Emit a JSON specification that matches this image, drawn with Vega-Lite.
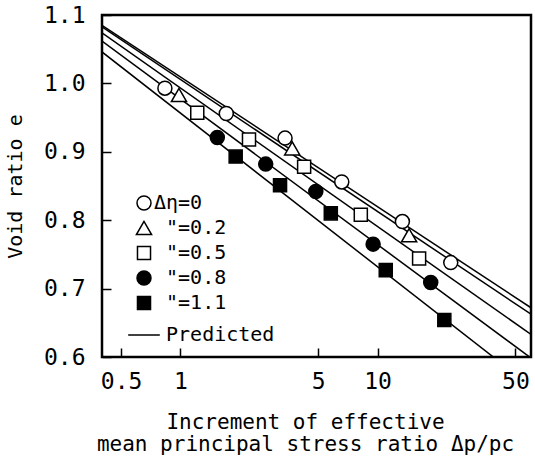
{
  "$schema": "https://vega.github.io/schema/vega-lite/v6.json",
  "width": 429,
  "height": 342,
  "autosize": {"type": "none"},
  "padding": {"left": 102, "top": 15, "right": 4, "bottom": 104},
  "background": "white",
  "config": {
    "view": {"stroke": "black", "strokeWidth": 2.5},
    "font": "DejaVu Sans Mono",
    "axis": {
      "domain": false,
      "grid": false,
      "tickColor": "black",
      "tickWidth": 1.5,
      "labelColor": "black",
      "titleColor": "black",
      "labelFont": "DejaVu Sans Mono",
      "titleFont": "DejaVu Sans Mono",
      "titleFontWeight": "normal"
    }
  },
  "datasets": {
    "obs": [
      {"series": "Δη=0", "x": 0.834, "e": 0.993},
      {"series": "Δη=0", "x": 1.708, "e": 0.956},
      {"series": "Δη=0", "x": 3.393, "e": 0.92},
      {"series": "Δη=0", "x": 6.58, "e": 0.856},
      {"series": "Δη=0", "x": 13.36, "e": 0.798},
      {"series": "Δη=0", "x": 23.5, "e": 0.738},
      {"series": "0.2", "x": 0.983, "e": 0.983},
      {"series": "0.2", "x": 3.69, "e": 0.905},
      {"series": "0.2", "x": 14.45, "e": 0.778},
      {"series": "0.5", "x": 1.217, "e": 0.957},
      {"series": "0.5", "x": 2.227, "e": 0.918},
      {"series": "0.5", "x": 4.24, "e": 0.878},
      {"series": "0.5", "x": 8.22, "e": 0.808},
      {"series": "0.5", "x": 16.24, "e": 0.744},
      {"series": "0.8", "x": 1.538, "e": 0.921},
      {"series": "0.8", "x": 2.707, "e": 0.882},
      {"series": "0.8", "x": 4.86, "e": 0.842},
      {"series": "0.8", "x": 9.49, "e": 0.765},
      {"series": "0.8", "x": 18.6, "e": 0.709},
      {"series": "1.1", "x": 1.906, "e": 0.893},
      {"series": "1.1", "x": 3.2, "e": 0.851},
      {"series": "1.1", "x": 5.79, "e": 0.81},
      {"series": "1.1", "x": 11.0, "e": 0.727},
      {"series": "1.1", "x": 21.8, "e": 0.654}
    ],
    "pred": [
      {"line": "A", "x": 0.4, "e": 1.085},
      {"line": "A", "x": 60, "e": 0.672},
      {"line": "B", "x": 0.4, "e": 1.0825},
      {"line": "B", "x": 60, "e": 0.6625},
      {"line": "C", "x": 0.4, "e": 1.074},
      {"line": "C", "x": 60, "e": 0.633},
      {"line": "D", "x": 0.4, "e": 1.062},
      {"line": "D", "x": 60, "e": 0.5985},
      {"line": "E", "x": 0.4, "e": 1.046},
      {"line": "E", "x": 60, "e": 0.557}
    ]
  },
  "layer": [
    {
      "data": {"name": "pred"},
      "mark": {"type": "line", "color": "black", "strokeWidth": 1.5, "clip": true},
      "encoding": {
        "x": {
          "field": "x",
          "type": "quantitative",
          "scale": {"type": "log", "domain": [0.4, 60], "nice": false},
          "axis": {
            "title": ["Increment of effective", "mean principal stress ratio Δp/pc"],
            "values": [0.5, 1, 5, 10, 50],
            "format": "~g",
            "tickSize": -9,
            "labelPadding": 40,
            "labelBaseline": "alphabetic",
            "labelFontSize": 23,
            "titleFontSize": 21,
            "titleX": 203,
            "titleY": 71,
            "titleAlign": "center",
            "titleBaseline": "alphabetic",
            "titleLineHeight": 22
          }
        },
        "y": {
          "field": "e",
          "type": "quantitative",
          "scale": {"domain": [0.6, 1.1], "nice": false, "zero": false},
          "axis": {
            "title": "Void ratio e",
            "values": [0.6, 0.7, 0.8, 0.9, 1.0, 1.1],
            "format": ".1f",
            "tickSize": -9,
            "labelPadding": 26,
            "labelFontSize": 23,
            "titleFontSize": 20,
            "titleX": -87,
            "titleY": 171,
            "titleAngle": 270,
            "titleAlign": "center",
            "titleBaseline": "middle"
          }
        },
        "detail": {"field": "line", "type": "nominal"}
      }
    },
    {
      "data": {"name": "obs"},
      "mark": {"type": "point", "filled": true, "stroke": "black", "strokeWidth": 1.5, "opacity": 1},
      "encoding": {
        "x": {"field": "x", "type": "quantitative", "scale": {"type": "log", "domain": [0.4, 60], "nice": false}},
        "y": {"field": "e", "type": "quantitative", "scale": {"domain": [0.6, 1.1], "nice": false, "zero": false}},
        "shape": {
          "field": "series",
          "type": "nominal",
          "scale": {
            "domain": ["Δη=0", "0.2", "0.5", "0.8", "1.1", "Predicted"],
            "range": ["circle", "triangle-up", "square", "circle", "square", "stroke"]
          },
          "legend": {
            "orient": "none",
            "legendX": 25,
            "legendY": 178,
            "title": null,
            "padding": 0,
            "labelFont": "DejaVu Sans Mono",
            "labelFontSize": 20,
            "labelColor": "black",
            "labelOffset": -7,
            "rowPadding": 5,
            "symbolStrokeColor": "black",
            "symbolStrokeWidth": 1.5,
            "labelExpr": "datum.label == 'Δη=0' ? datum.label : (datum.label == 'Predicted' ? '\u200b\u00a0Predicted' : '\u200b\u00a0\"=' + datum.label)"
          }
        },
        "fill": {
          "field": "series",
          "type": "nominal",
          "scale": {
            "domain": ["Δη=0", "0.2", "0.5", "0.8", "1.1", "Predicted"],
            "range": ["white", "white", "white", "black", "black", "black"]
          }
        },
        "size": {
          "field": "series",
          "type": "nominal",
          "scale": {
            "type": "ordinal",
            "domain": ["Δη=0", "0.2", "0.5", "0.8", "1.1", "Predicted"],
            "range": [196, 230, 170, 196, 170, 1000]
          }
        }
      }
    }
  ]
}
